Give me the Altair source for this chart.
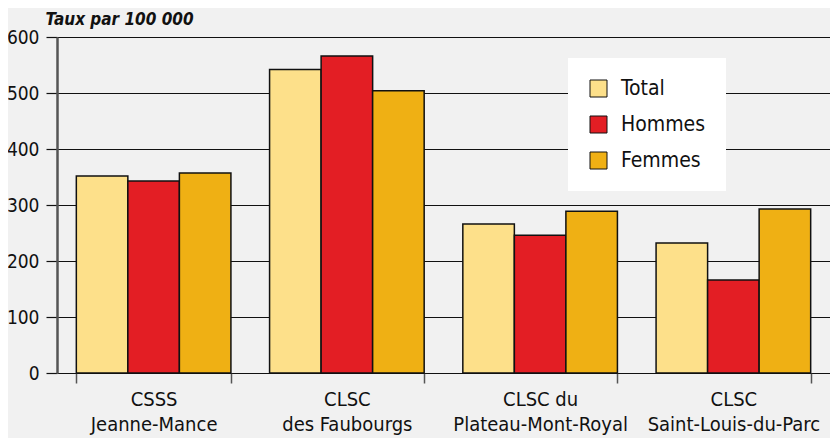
import altair as alt
import pandas as pd

categories = ["CSSS\nJeanne-Mance", "CLSC\ndes Faubourgs", "CLSC du\nPlateau-Mont-Royal", "CLSC\nSaint-Louis-du-Parc"]
series = ["Total", "Hommes", "Femmes"]
total = [352, 542, 266, 232]
hommes = [343, 566, 246, 166]
femmes = [357, 504, 289, 293]
colors = ["#fde08a", "#e31e24", "#efb014"]
y_ticks = [0, 100, 200, 300, 400, 500, 600]

rows = []
for i, c in enumerate(categories):
    for s, vals in zip(series, [total, hommes, femmes]):
        rows.append({"cat": c, "serie": s, "val": vals[i]})
df = pd.DataFrame(rows)

FONT = "Liberation Sans Narrow, DejaVu Sans Condensed, Roboto Condensed, sans-serif"

chart = alt.Chart(df).mark_bar(stroke="#111", strokeWidth=1.5).encode(
    x=alt.X("cat:N", sort=categories, title=None,
            scale=alt.Scale(paddingInner=0.2, paddingOuter=0.1),
            axis=alt.Axis(labelExpr="split(datum.label, '\\n')", labelAngle=0,
                          tickBand="extent", tickSize=10, tickColor="#555", tickWidth=1.5,
                          domain=False, labelFontSize=20, labelLineHeight=25,
                          labelPadding=6, labelColor="#111", labelFont=FONT,
                          labelLimit=400, labelOverlap=False)),
    xOffset=alt.XOffset("serie:N", sort=series, scale=alt.Scale(paddingInner=0, paddingOuter=0)),
    y=alt.Y("val:Q", scale=alt.Scale(domain=[0, 600], nice=False),
            axis=alt.Axis(values=y_ticks, title="Taux par 100 000", titleAngle=0,
                          titleAlign="left", titleBaseline="alphabetic", titleX=-12, titleY=-13,
                          titleFont=FONT, titleFontSize=17, titleFontStyle="italic",
                          titleFontWeight="bold", titleColor="#111",
                          grid=True, gridColor="#111", gridWidth=1.2,
                          domainColor="#555", domainWidth=2.5,
                          tickSize=11, tickColor="#111", tickWidth=1.2,
                          labelPadding=7, labelFontSize=19, labelColor="#111", labelFont=FONT)),
    color=alt.Color("serie:N", sort=series,
                    scale=alt.Scale(domain=series, range=colors),
                    legend=alt.Legend(title=None, orient="none", legendX=511, legendY=21,
                                      fillColor="white", padding=20, symbolType="square",
                                      symbolSize=289, symbolStrokeColor="#111",
                                      symbolStrokeWidth=1, labelFontSize=21, labelFont=FONT,
                                      labelColor="#111", rowPadding=14, labelOffset=12)),
).properties(
    width=773, height=336,
    autosize=alt.AutoSizeParams(type="none"),
    padding={"left": 49, "top": 29, "right": 0, "bottom": 65},
    background="#f1f1f1",
).configure_view(stroke=None)

chart.save("out.html", embed_options={"renderer": "svg", "actions": False})
